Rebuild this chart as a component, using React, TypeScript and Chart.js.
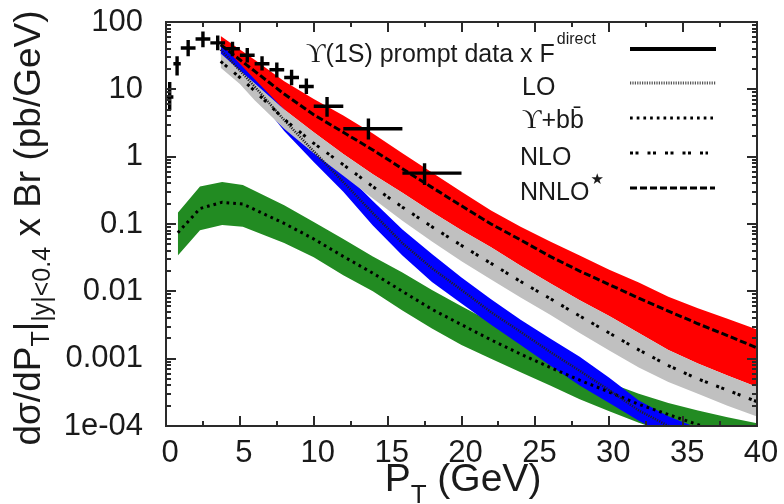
import React, { useEffect, useRef } from "react";
import { Chart, registerables } from "chart.js";

Chart.register(...registerables);

// ---------- data ----------
const bandPt = [3.7, 5, 6, 8, 10, 12, 14, 16, 18, 20, 22, 24, 26, 28, 30, 32, 34, 36, 38, 40];

const nnloUpper = [62, 39, 27.5, 13.2, 7.2, 4.1, 2.2, 1.12, 0.58, 0.30, 0.158, 0.091, 0.055, 0.034, 0.021, 0.0135, 0.0083, 0.0056, 0.0039, 0.0027];
const nnloLower = [34, 19, 12.3, 5.0, 2.3, 1.10, 0.55, 0.29, 0.151, 0.081, 0.045, 0.024, 0.0132, 0.0074, 0.0043, 0.0024, 0.00135, 0.00085, 0.00056, 0.00038];
const nnloCentral = [46, 27.5, 18.6, 8.5, 4.2, 2.3, 1.26, 0.66, 0.35, 0.186, 0.100, 0.058, 0.033, 0.020, 0.0126, 0.0079, 0.0051, 0.0033, 0.0022, 0.00145];

const nloUpper = [34, 19, 12.3, 5.0, 2.3, 1.10, 0.55, 0.29, 0.151, 0.081, 0.045, 0.024, 0.0132, 0.0074, 0.0043, 0.0024, 0.00135, 0.00085, 0.00056, 0.00038];
const nloLower = [21, 12, 6.9, 2.6, 1.12, 0.52, 0.24, 0.112, 0.055, 0.028, 0.015, 0.0081, 0.0045, 0.0024, 0.00132, 0.00074, 0.00045, 0.0003, 0.0002, 0.000138];
const nloCentral = [26, 15, 9.5, 3.6, 1.58, 0.76, 0.36, 0.178, 0.091, 0.048, 0.026, 0.014, 0.0078, 0.0043, 0.0024, 0.00135, 0.00079, 0.0005, 0.00034, 0.00023];

const loUpper = [48, 24, 14.1, 5.0, 1.74, 0.60, 0.22, 0.083, 0.036, 0.016, 0.0076, 0.0038, 0.002, 0.00107, 0.00052, 0.00024, 0.00014, 0.000093, 0.000063, 0.000043];
const loLower = [32, 15, 8.5, 2.4, 0.83, 0.30, 0.095, 0.034, 0.0138, 0.0066, 0.0032, 0.0016, 0.00079, 0.0004, 0.00022, 0.00012, 0.00007, 0.000045, 0.000028, 0.000018];
const loCentral = [39, 19, 11, 3.5, 1.2, 0.42, 0.145, 0.052, 0.022, 0.0105, 0.0049, 0.0025, 0.00126, 0.00066, 0.00034, 0.00017, 0.0001, 0.000065, 0.000043, 0.000028];

const bbPt = [0.8, 2.3, 3.8, 5.2, 8, 10, 12, 14, 16, 18, 20, 22, 24, 26, 28, 30, 32, 34, 36, 38, 40];
const bbUpper = [0.147, 0.36, 0.42, 0.38, 0.19, 0.107, 0.060, 0.033, 0.019, 0.0105, 0.006, 0.0035, 0.002, 0.00115, 0.00066, 0.00044, 0.0003, 0.00022, 0.00017, 0.000135, 0.00011];
const bbLower = [0.034, 0.081, 0.097, 0.091, 0.052, 0.032, 0.0174, 0.010, 0.0052, 0.0028, 0.0016, 0.001, 0.00063, 0.0004, 0.00025, 0.000166, 0.000112, 0.000079, 0.000058, 0.000043, 0.000032];
const bbCentral = [0.074, 0.17, 0.21, 0.198, 0.102, 0.060, 0.033, 0.0186, 0.01, 0.0054, 0.0032, 0.0019, 0.00117, 0.00074, 0.00048, 0.00032, 0.00021, 0.000148, 0.000105, 0.000076, 0.000056];

const dataPt = [0.25, 0.75, 1.5, 2.5, 3.5, 4.5, 5.5, 6.5, 7.5, 8.5, 9.5, 10.9, 13.7, 17.5];
const dataPtLow = [0, 0.5, 1, 2, 3, 4, 5, 6, 7, 8, 9, 10, 12, 16];
const dataPtHigh = [0.5, 1, 2, 3, 4, 5, 6, 7, 8, 9, 10, 12, 16, 20];
const dataY = [7.7, 24, 41, 56, 49, 40, 32, 24, 19.5, 15, 11, 5.6, 2.6, 0.57];
const dataYLow = [4.9, 16, 31, 42, 38, 31, 25, 19, 15, 11.5, 8.5, 3.9, 1.8, 0.38];
const dataYHigh = [12.8, 31, 54, 72, 63, 51, 41, 31, 25, 19.5, 14.5, 7.7, 3.7, 0.8];

const yTickValues = [1e-4, 1e-3, 1e-2, 1e-1, 1, 10, 100];
const yTickLabels = ["1e-04", "0.001", "0.01", "0.1", "1", "10", "100"];
const xMin = 0;
const xMax = 40;
const xStep = 5;

// ---------- style / layout ----------
const FONT = "'Liberation Sans', Arial, 'DejaVu Sans', sans-serif";
const SERIF = "'Liberation Serif', 'DejaVu Serif', serif";
const TEXT = "#1a1a1a";
const FRAME = "#2a2a2a";
const RED = "#ff0000";
const GRAY = "#c0c0c0";
const BLUE = "#0000ff";
const GREEN = "#228b22";
const AREA = { left: 166, top: 22, right: 757, bottom: 426 };
const W = 784;
const H = 504;

const pts = (xs: number[], ys: number[]) => xs.map((x, i) => ({ x, y: ys[i] }));

function crossPoints() {
  const out: { x: number; y: number | null }[] = [];
  dataPt.forEach((x, i) => {
    out.push({ x: dataPtLow[i], y: dataY[i] });
    out.push({ x: dataPtHigh[i], y: dataY[i] });
    out.push({ x: dataPtHigh[i], y: null });
    out.push({ x, y: dataYLow[i] });
    out.push({ x, y: dataYHigh[i] });
    out.push({ x, y: null });
  });
  return out;
}

const band = (upper: any[], lower: any[], color: string, order: number) => [
  { data: upper, borderWidth: 0, pointRadius: 0, fill: false, order },
  { data: lower, borderWidth: 0, pointRadius: 0, fill: "-1", backgroundColor: color, order },
];

const centerLine = (data: any[], dash: number[], width: number, color = "#000") => ({
  data,
  borderColor: color,
  borderWidth: width,
  borderDash: dash,
  borderCapStyle: "butt",
  pointRadius: 0,
  fill: false,
  order: 2,
});

const decorPlugin = {
  id: "decor",
  afterDraw(chart: any) {
    const ctx = chart.ctx;
    const a = chart.chartArea;
    const xs = chart.scales.x;
    const ys = chart.scales.y;
    ctx.save();
    ctx.setLineDash([]);
    ctx.globalAlpha = 1;
    ctx.globalCompositeOperation = "source-over";
    ctx.fillStyle = FRAME;
    // frame
    ctx.fillRect(a.left - 1, a.top - 1, a.right - a.left + 2, 2);
    ctx.fillRect(a.left - 1, a.bottom - 1, a.right - a.left + 2, 2);
    ctx.fillRect(a.left - 1, a.top - 1, 2, a.bottom - a.top + 2);
    ctx.fillRect(a.right - 1, a.top - 1, 2, a.bottom - a.top + 2);
    // inward ticks
    for (let v = xMin; v <= xMax + 1e-9; v += xStep / 2) {
      const px = Math.round(xs.getPixelForValue(v));
      const len = Math.abs(v % xStep) < 1e-9 ? 10 : 5;
      ctx.fillRect(px - 1, a.bottom - len, 2, len);
      ctx.fillRect(px - 1, a.top, 2, len);
    }
    for (let e = -4; e <= 2; e++) {
      for (let m = 1; m <= 9; m++) {
        const v = m * Math.pow(10, e);
        if (v > 100 * 1.0001) break;
        const py = Math.round(ys.getPixelForValue(v));
        const len = m === 1 ? 10 : 5;
        ctx.fillRect(a.left, py - 1, len, 2);
        ctx.fillRect(a.right - len, py - 1, len, 2);
      }
    }

    // legend
    ctx.fillStyle = TEXT;
    ctx.textBaseline = "alphabetic";
    ctx.textAlign = "left";
    const big = `25px ${FONT}`;
    const ups = `27px ${SERIF}`;
    ctx.font = ups;
    ctx.fillText("\u03D2", 306, 62);
    let cx = 306 + ctx.measureText("\u03D2").width;
    ctx.font = big;
    const t1 = "(1S) prompt data x F";
    ctx.fillText(t1, cx, 62);
    cx += ctx.measureText(t1).width;
    ctx.font = `16px ${FONT}`;
    ctx.fillText("direct", cx + 2, 44);
    ctx.font = big;
    ctx.fillText("LO", 522, 95);
    ctx.font = ups;
    ctx.fillText("\u03D2", 522, 128);
    cx = 522 + ctx.measureText("\u03D2").width;
    ctx.font = big;
    ctx.fillText("+bb\u0304", cx, 128);
    ctx.fillText("NLO", 520, 165);
    ctx.fillText("NNLO", 520, 200);
    const wn = ctx.measureText("NNLO").width;
    ctx.font = `15px 'DejaVu Sans', ${FONT}`;
    ctx.fillText("\u2605", 520 + wn + 1, 184);

    const sample = (y: number, x2: number, dash: number[], width: number, color: string) => {
      ctx.save();
      ctx.strokeStyle = color;
      ctx.lineWidth = width;
      ctx.lineCap = "butt";
      ctx.setLineDash(dash);
      ctx.beginPath();
      ctx.moveTo(630, y);
      ctx.lineTo(x2, y);
      ctx.stroke();
      ctx.restore();
    };
    sample(49, 716, [], 4, "#000");
    sample(83, 716, [1.2, 1.2], 3, "#555");
    sample(118, 713, [2.7, 4], 3, "#000");
    sample(153, 708, [3, 2.5, 3, 9], 3, "#000");
    sample(188, 715, [7, 3], 3, "#000");

    // x title
    ctx.fillStyle = TEXT;
    ctx.font = `39px ${FONT}`;
    const xa = "P";
    const xc = " (GeV)";
    const wa = ctx.measureText(xa).width;
    const wc = ctx.measureText(xc).width;
    ctx.font = `26px ${FONT}`;
    const wb = ctx.measureText("T").width;
    const sx = 463 - (wa + wb + wc) / 2;
    ctx.font = `39px ${FONT}`;
    ctx.fillText(xa, sx, 491);
    ctx.font = `26px ${FONT}`;
    ctx.fillText("T", sx + wa, 503);
    ctx.font = `39px ${FONT}`;
    ctx.fillText(xc, sx + wa + wb, 491);

    // y title
    ctx.save();
    ctx.translate(40, 228);
    ctx.rotate(-Math.PI / 2);
    const parts: [string, number, number][] = [
      ["d\u03C3/dP", 37, 0],
      ["T", 25, 9],
      ["|", 37, 0],
      ["|y|<0.4", 25, 10],
      [" x Br (pb/GeV)", 37, 0],
    ];
    let tw = 0;
    parts.forEach(([s, f]) => {
      ctx.font = `${f}px ${FONT}`;
      tw += ctx.measureText(s).width;
    });
    let px = -tw / 2;
    parts.forEach(([s, f, dy]) => {
      ctx.font = `${f}px ${FONT}`;
      ctx.fillText(s, px, dy);
      px += ctx.measureText(s).width;
    });
    ctx.restore();
    ctx.restore();
  },
};

export default function App() {
  const ref = useRef<HTMLCanvasElement | null>(null);
  useEffect(() => {
    document.body.style.margin = "0";
    if (!ref.current) return;
    const datasets: any[] = [
      ...band(pts(bandPt, nnloUpper), pts(bandPt, nnloLower), RED, 13),
      ...band(pts(bbPt, bbUpper), pts(bbPt, bbLower), GREEN, 12),
      ...band(pts(bandPt, loUpper), pts(bandPt, loLower), BLUE, 11),
      ...band(pts(bandPt, nloUpper), pts(bandPt, nloLower), GRAY, 10),
      centerLine(pts(bandPt, nnloCentral), [7, 3], 3),
      centerLine(pts(bandPt, nloCentral), [3, 2.5, 3, 9], 3),
      centerLine(pts(bandPt, loCentral), [1.2, 1.2], 2.5, "#222"),
      centerLine(pts(bbPt, bbCentral), [2.7, 4], 3),
      {
        data: crossPoints(),
        borderColor: "#000",
        borderWidth: 3.4,
        pointRadius: 0,
        fill: false,
        spanGaps: false,
        order: 0,
      },
    ];
    const chart = new Chart(ref.current, {
      type: "line",
      data: { datasets },
      options: {
        animation: false,
        responsive: true,
        maintainAspectRatio: false,
        layout: { padding: { left: 0, top: AREA.top, right: W - AREA.right, bottom: 0 } },
        plugins: { legend: { display: false }, tooltip: { enabled: false } },
        elements: { line: { tension: 0 } },
        scales: {
          x: {
            type: "linear",
            min: xMin,
            max: xMax,
            grid: { display: false, drawTicks: false },
            border: { display: false },
            ticks: {
              stepSize: xStep,
              padding: 9,
              labelOffset: 4,
              color: TEXT,
              font: { family: FONT, size: 31 },
              maxRotation: 0,
              autoSkip: false,
            },
            afterFit: (s: any) => {
              s.height = H - AREA.bottom;
              s.paddingLeft = 0;
              s.paddingRight = 0;
            },
          },
          y: {
            type: "logarithmic",
            min: 1e-4,
            max: 100,
            grid: { display: false, drawTicks: false },
            border: { display: false },
            afterBuildTicks: (s: any) => {
              s.ticks = yTickValues.map((v) => ({ value: v }));
            },
            ticks: {
              autoSkip: false,
              padding: 23,
              color: TEXT,
              font: { family: FONT, size: 31 },
              callback: (v: any) => {
                const i = yTickValues.findIndex((t) => Math.abs(t - v) / t < 1e-6);
                return i >= 0 ? yTickLabels[i] : "";
              },
            },
            afterFit: (s: any) => {
              s.width = AREA.left;
              s.paddingTop = 0;
              s.paddingBottom = 0;
            },
          },
        },
      },
      plugins: [decorPlugin],
    });
    return () => chart.destroy();
  }, []);
  return (
    <div style={{ width: W, height: H, position: "relative", background: "#fff" }}>
      <canvas ref={ref} />
      <div
        style={{
          position: "absolute",
          left: AREA.left - 1,
          top: AREA.top - 1,
          width: AREA.right - AREA.left + 2,
          height: AREA.bottom - AREA.top + 2,
          border: `2px solid ${FRAME}`,
          boxSizing: "border-box",
          pointerEvents: "none",
        }}
      />
    </div>
  );
}
